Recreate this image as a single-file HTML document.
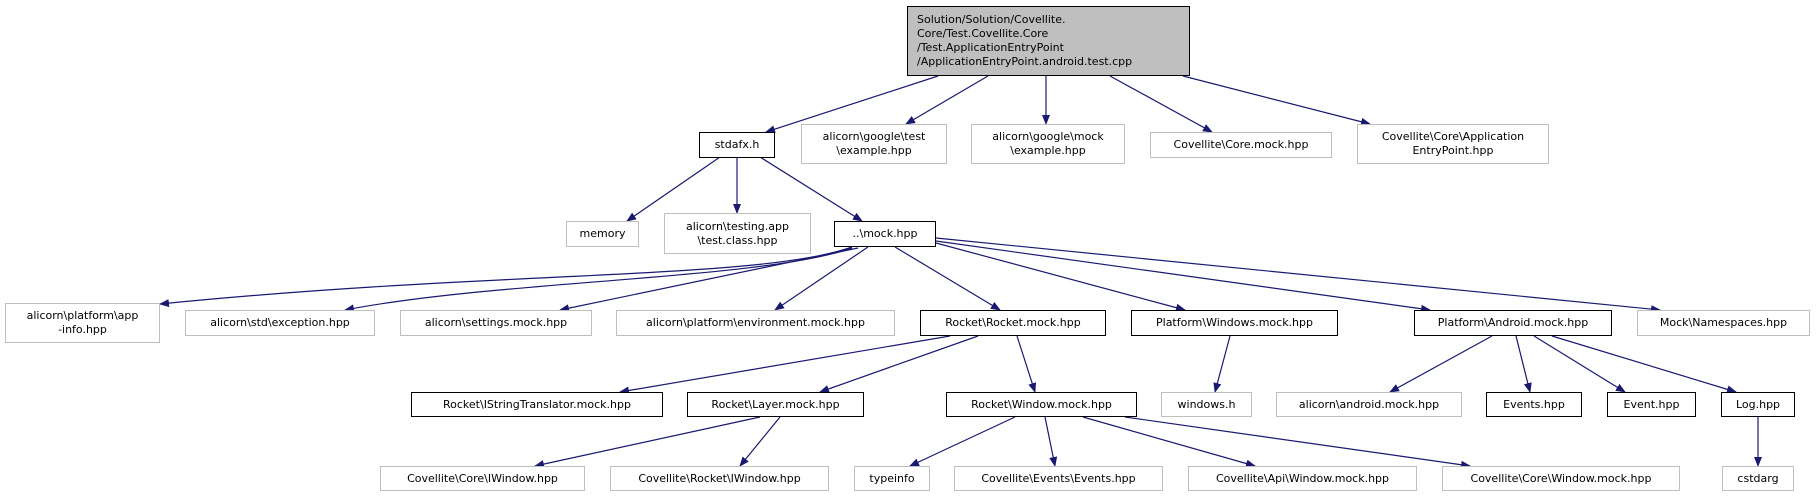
<!DOCTYPE html>
<html><head><meta charset="utf-8"><style>
html,body{margin:0;padding:0;background:#fff;}
body{width:1816px;height:499px;position:relative;overflow:hidden;font-family:"DejaVu Sans","Liberation Sans",sans-serif;font-size:11px;color:#000;}
.n{position:absolute;box-sizing:border-box;border:1px solid #bfbfbf;background:#fff;display:flex;flex-direction:column;align-items:center;justify-content:center;text-align:center;line-height:14px;white-space:nowrap;}
.b{border:1px solid #000;}
svg{position:absolute;left:0;top:0;}
</style></head><body>
<svg width="1816" height="499">
<defs><marker id="a" markerWidth="10" markerHeight="8" refX="9" refY="4" orient="auto" markerUnits="userSpaceOnUse"><path d="M0,0 L10,4 L0,8 z" fill="#191970"/></marker></defs>
<g stroke="#191970" stroke-width="1.2" fill="none" marker-end="url(#a)">
<path d="M938,76 L766,132"/>
<path d="M988,76 L906,124"/>
<path d="M1046,76 L1046,124"/>
<path d="M1110,76 L1212,132"/>
<path d="M1183,76 L1370,124"/>
<path d="M720,157 L627,221"/>
<path d="M737,157 L737,213"/>
<path d="M760,157 L862,221"/>
<path d="M852,247 C760,280 500,270 160,304"/>
<path d="M852,248 C760,280 500,280 345,310"/>
<path d="M858,248 L560,310"/>
<path d="M868,247 L775,310"/>
<path d="M895,247 L1000,310"/>
<path d="M936,243 L1185,310"/>
<path d="M936,241 L1430,310"/>
<path d="M936,238 L1660,310"/>
<path d="M950,336 L620,392"/>
<path d="M978,336 L820,392"/>
<path d="M1017,336 L1035,392"/>
<path d="M1230,336 L1215,392"/>
<path d="M1492,336 L1390,392"/>
<path d="M1516,336 L1530,392"/>
<path d="M1534,336 L1625,392"/>
<path d="M1552,336 L1736,392"/>
<path d="M760,417 L535,466"/>
<path d="M780,417 L740,466"/>
<path d="M1015,417 L910,466"/>
<path d="M1045,417 L1055,466"/>
<path d="M1083,417 L1255,466"/>
<path d="M1125,417 L1470,466"/>
<path d="M1758,417 L1758,466"/>
</g>
</svg>
<div class="n b" style="left:907px;top:6px;width:283px;height:70px;background:#bfbfbf;align-items:flex-start;padding-left:9px;text-align:left;">Solution/Solution/Covellite.<br>Core/Test.Covellite.Core<br>/Test.ApplicationEntryPoint<br>/ApplicationEntryPoint.android.test.cpp</div>

<div class="n b" style="left:699px;top:132px;width:76px;height:26px;">stdafx.h</div>
<div class="n" style="left:801px;top:124px;width:146px;height:40px;">alicorn\google\test<br>\example.hpp</div>
<div class="n" style="left:971px;top:124px;width:154px;height:40px;">alicorn\google\mock<br>\example.hpp</div>
<div class="n" style="left:1150px;top:132px;width:182px;height:26px;">Covellite\Core.mock.hpp</div>
<div class="n" style="left:1357px;top:124px;width:192px;height:40px;">Covellite\Core\Application<br>EntryPoint.hpp</div>

<div class="n" style="left:566px;top:221px;width:73px;height:26px;">memory</div>
<div class="n" style="left:664px;top:213px;width:147px;height:41px;">alicorn\testing.app<br>\test.class.hpp</div>
<div class="n b" style="left:834px;top:221px;width:102px;height:26px;">..\mock.hpp</div>

<div class="n" style="left:5px;top:303px;width:155px;height:40px;">alicorn\platform\app<br>-info.hpp</div>
<div class="n" style="left:185px;top:310px;width:190px;height:26px;">alicorn\std\exception.hpp</div>
<div class="n" style="left:400px;top:310px;width:192px;height:26px;">alicorn\settings.mock.hpp</div>
<div class="n" style="left:616px;top:310px;width:279px;height:26px;">alicorn\platform\environment.mock.hpp</div>
<div class="n b" style="left:920px;top:310px;width:186px;height:26px;">Rocket\Rocket.mock.hpp</div>
<div class="n b" style="left:1131px;top:310px;width:207px;height:26px;">Platform\Windows.mock.hpp</div>
<div class="n b" style="left:1414px;top:310px;width:198px;height:26px;">Platform\Android.mock.hpp</div>
<div class="n" style="left:1637px;top:310px;width:173px;height:26px;">Mock\Namespaces.hpp</div>

<div class="n b" style="left:411px;top:392px;width:252px;height:25px;">Rocket\IStringTranslator.mock.hpp</div>
<div class="n b" style="left:687px;top:392px;width:177px;height:25px;">Rocket\Layer.mock.hpp</div>
<div class="n b" style="left:946px;top:392px;width:191px;height:25px;">Rocket\Window.mock.hpp</div>
<div class="n" style="left:1161px;top:392px;width:91px;height:25px;">windows.h</div>
<div class="n" style="left:1276px;top:392px;width:186px;height:25px;">alicorn\android.mock.hpp</div>
<div class="n b" style="left:1486px;top:392px;width:96px;height:25px;">Events.hpp</div>
<div class="n b" style="left:1607px;top:392px;width:89px;height:25px;">Event.hpp</div>
<div class="n b" style="left:1721px;top:392px;width:74px;height:25px;">Log.hpp</div>

<div class="n" style="left:380px;top:466px;width:205px;height:25px;">Covellite\Core\IWindow.hpp</div>
<div class="n" style="left:610px;top:466px;width:219px;height:25px;">Covellite\Rocket\IWindow.hpp</div>
<div class="n" style="left:854px;top:466px;width:76px;height:25px;">typeinfo</div>
<div class="n" style="left:954px;top:466px;width:209px;height:25px;">Covellite\Events\Events.hpp</div>
<div class="n" style="left:1188px;top:466px;width:229px;height:25px;">Covellite\Api\Window.mock.hpp</div>
<div class="n" style="left:1442px;top:466px;width:238px;height:25px;">Covellite\Core\Window.mock.hpp</div>
<div class="n" style="left:1722px;top:466px;width:72px;height:25px;">cstdarg</div>
</body></html>
